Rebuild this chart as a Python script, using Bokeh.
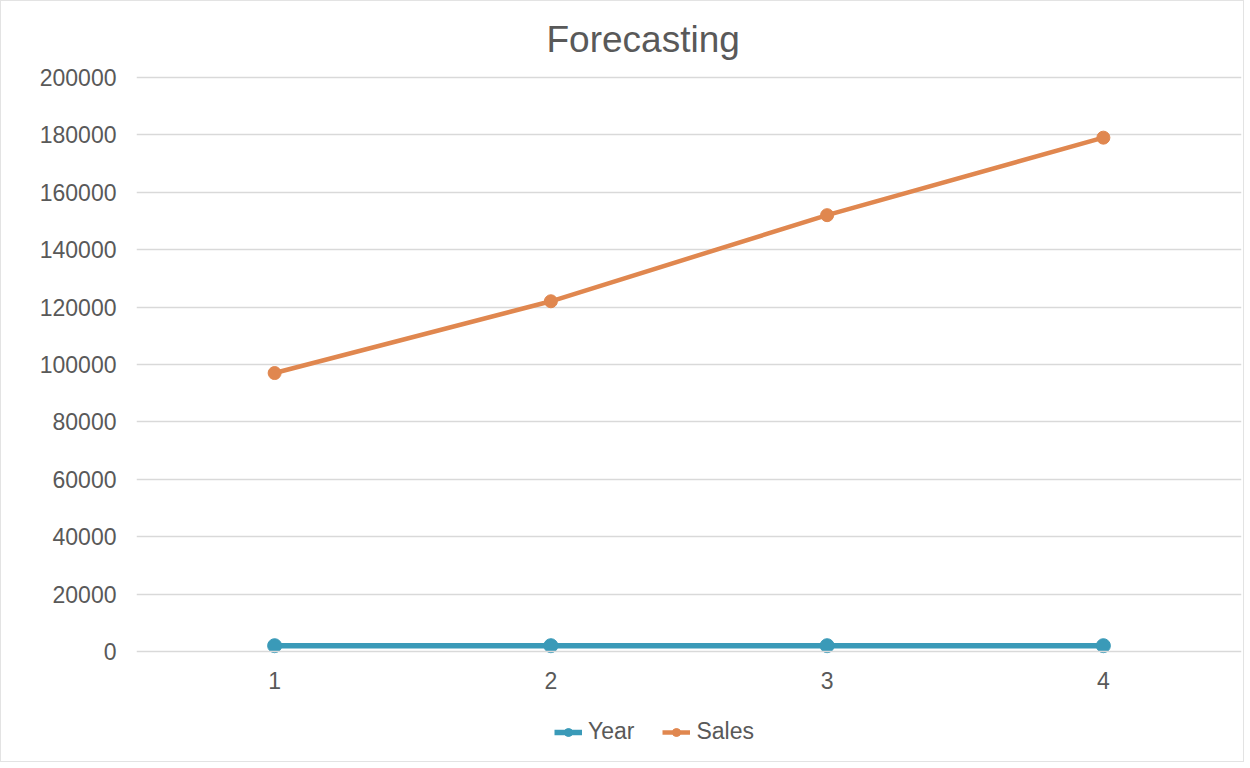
from bokeh.plotting import figure
from bokeh.models import FactorRange, Range1d, FixedTicker, NumeralTickFormatter, Legend, LegendItem, Title
from bokeh.embed import file_html
from bokeh.resources import INLINE

periods = ["1", "2", "3", "4"]
year = [2015, 2016, 2017, 2018]
sales = [97000, 122000, 152000, 179000]
y_ticks = [0, 20000, 40000, 60000, 80000, 100000, 120000, 140000, 160000, 180000, 200000]

TEXT = "#595959"
GRID = "#d9d9d9"
FONT = "Liberation Sans"

# frame extends below zero to host the legend; the x axis is pinned at y=0
p = figure(x_range=FactorRange(*periods, range_padding=0), y_range=Range1d(-37630, 201000),
           frame_width=1105, frame_height=685, output_backend="svg", toolbar_location=None,
           min_border_left=135, min_border_right=2, min_border_top=73, min_border_bottom=2)
p.title = None
t = Title(text="Forecasting", align="left", text_font=FONT, text_font_size="37px",
          text_color=TEXT, text_font_style="normal", offset=410, standoff=30)
p.add_layout(t, "above")

p.outline_line_color = None
p.xgrid.grid_line_color = None
p.ygrid.grid_line_color = GRID
p.ygrid.grid_line_width = 1.5
p.ygrid.ticker = FixedTicker(ticks=y_ticks[1:])

p.yaxis.ticker = FixedTicker(ticks=y_ticks)
p.yaxis.formatter = NumeralTickFormatter(format="0")
p.yaxis.axis_line_color = None
p.yaxis.major_tick_line_color = None
p.yaxis.minor_tick_line_color = None
p.yaxis.major_label_text_color = TEXT
p.yaxis.major_label_text_font = FONT
p.yaxis.major_label_text_font_size = "23px"
p.yaxis.major_label_standoff = 14

p.xaxis.fixed_location = 0
p.xaxis.axis_line_color = GRID
p.xaxis.axis_line_width = 1.5
p.xaxis.major_tick_line_color = None
p.xaxis.minor_tick_line_color = None
p.xaxis.major_label_text_color = TEXT
p.xaxis.major_label_text_font = FONT
p.xaxis.major_label_text_font_size = "23px"
p.xaxis.major_label_standoff = 15

c_year = "#3a9ab8"
c_sales = "#e0874f"
l1 = p.line(periods, year, line_color=c_year, line_width=5.5)
m1 = p.scatter(periods, year, size=14, fill_color=c_year, line_color=c_year)
l2 = p.line(periods, sales, line_color=c_sales, line_width=4.5)
m2 = p.scatter(periods, sales, size=13, fill_color=c_sales, line_color=c_sales)

legend = Legend(items=[LegendItem(label="Year", renderers=[l1, m1]),
                       LegendItem(label="Sales", renderers=[l2, m2])],
                orientation="horizontal", location=(418, 14),
                label_text_font=FONT, label_text_font_size="23px", label_text_color=TEXT,
                border_line_color=None, background_fill_alpha=0,
                glyph_width=28, label_standoff=6, spacing=28, margin=0, padding=8)
p.add_layout(legend, "center")

p.styles = {"border": "1px solid #e3e3e3"}

open("out.html", "w").write(file_html(p, INLINE))
